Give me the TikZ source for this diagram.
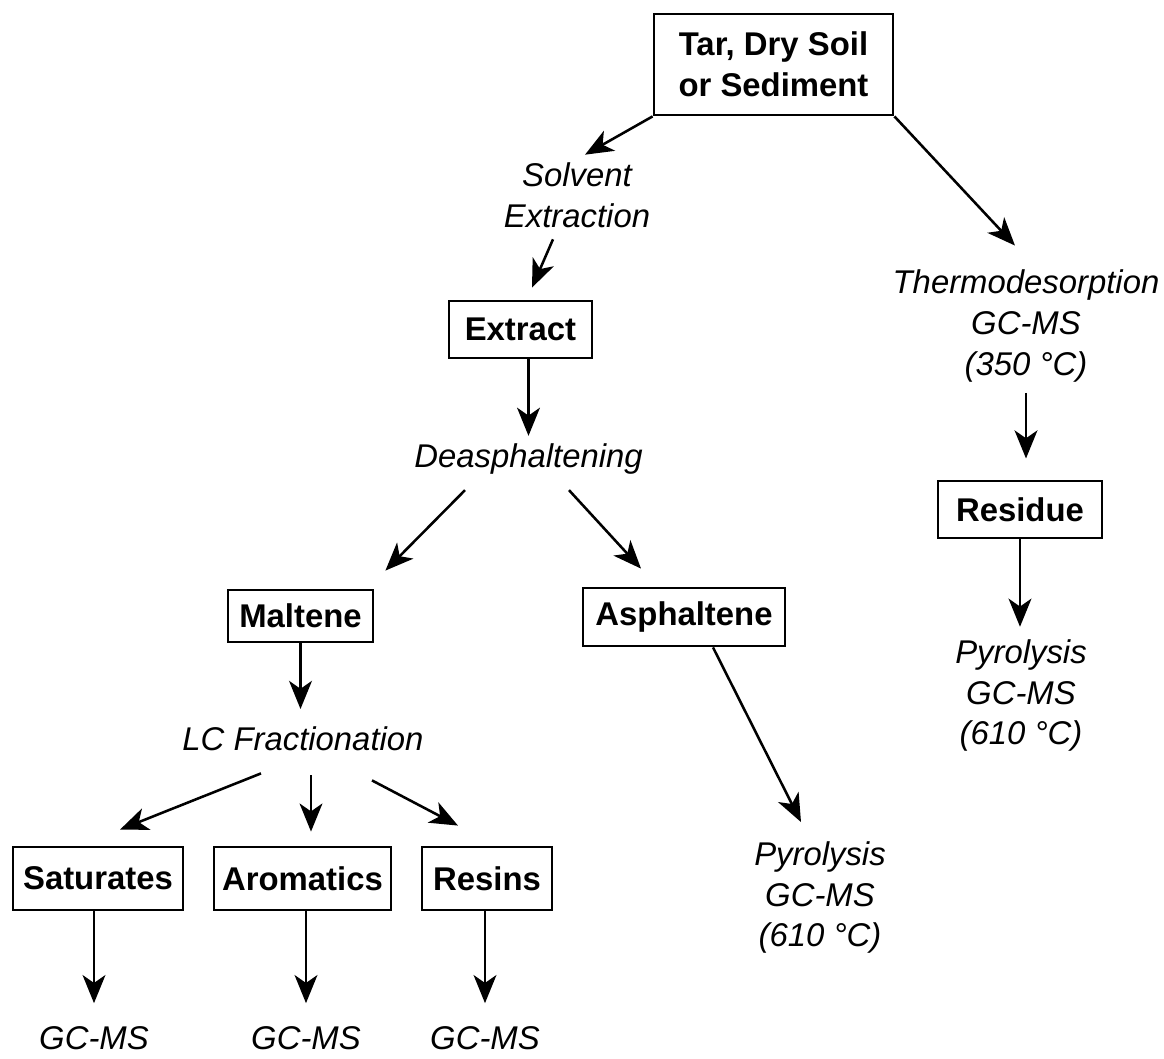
\documentclass[tikz,border=0pt]{standalone}
\usepackage{fontspec}
\setmainfont{Liberation Sans}
\usetikzlibrary{arrows.meta}

\begin{document}
\begin{tikzpicture}[
    box/.style={draw, line width=1.6pt, align=center,
        font=\bfseries\fontsize{18.7}{23.2}\selectfont},
    proc/.style={inner sep=0pt, align=center,
        font=\itshape\fontsize{18.7}{23.2}\selectfont},
    arr/.style={line width=1.45pt, arrows={-Stealth[length=16pt, width=13pt, inset=4.5pt]}}
]

    \useasboundingbox (0, 0) rectangle (23.28, 21.18);

    % sample and extraction
    \path node (top) [box, minimum width=4.78cm, minimum height=2.02cm] at (15.47, 19.89) {Tar, Dry Soil\\or Sediment};
    \path node (solvent) [proc] at (11.54, 17.27) {Solvent\\Extraction};
    \path node (extract) [box, minimum width=2.86cm, minimum height=1.14cm] at (10.41, 14.59) {Extract};
    \path node (deasph) [proc] at (10.57, 11.99) {Deasphaltening};
    \path node (maltene) [box, minimum width=2.90cm, minimum height=1.04cm] at (6.01, 8.86) {Maltene};
    \path node (asph) [box, minimum width=4.04cm, minimum height=1.16cm] at (13.68, 8.84) {Asphaltene};
    \path node (lcfrac) [proc] at (6.06, 6.40) {LC Fractionation};

    % fractions
    \path node (sat) [box, minimum width=3.40cm, minimum height=1.26cm] at (1.96, 3.61) {Saturates};
    \path node (arom) [box, minimum width=3.54cm, minimum height=1.26cm] at (6.05, 3.61) {Aromatics};
    \path node (resins) [box, minimum width=2.60cm, minimum height=1.26cm] at (9.74, 3.61) {Resins};
    \path node (gc1) [proc] at (1.88, 0.42) {GC-MS};
    \path node (gc2) [proc] at (6.12, 0.42) {GC-MS};
    \path node (gc3) [proc] at (9.70, 0.42) {GC-MS};
    \path node (pyroA) [proc] at (16.40, 3.23) {Pyrolysis\\GC-MS\\(610 °C)};

    % thermal branch
    \path node (thermo) [proc] at (20.52, 14.66) {Thermodesorption\\GC-MS\\(350 °C)};
    \path node (residue) [box, minimum width=3.28cm, minimum height=1.14cm] at (20.40, 10.99) {Residue};
    \path node (pyroR) [proc] at (20.42, 7.27) {Pyrolysis\\GC-MS\\(610 °C)};

    \draw[arr] (top.south west) -- ([xshift=0.16cm, yshift=0.16cm]solvent.north);
    \draw[arr] (top.south east) -- ([xshift=-0.22cm, yshift=0.48cm]thermo.north);
    \draw[arr] ([xshift=-0.48cm, yshift=-0.22cm]solvent.south) -- ([xshift=0.23cm, yshift=0.24cm]extract.north);
    \draw[arr] ([xshift=0.16cm]extract.south) -- ([yshift=0.16cm]deasph.north);
    \draw[arr] ([xshift=-1.27cm, yshift=-0.30cm]deasph.south) -- ([xshift=0.22cm, yshift=0.36cm]maltene.north east);
    \draw[arr] ([xshift=0.81cm, yshift=-0.30cm]deasph.south) -- ([xshift=-0.86cm, yshift=0.36cm]asph.north);
    \draw[arr, shorten >=10pt] (maltene.south) -- (maltene.south |- lcfrac.north);
    \draw[arr] ([xshift=-0.84cm, yshift=-0.44cm]lcfrac.south) -- ([xshift=0.44cm, yshift=0.32cm]sat.north);
    \draw[arr] ([xshift=0.16cm, yshift=-0.48cm]lcfrac.south) -- ([xshift=0.17cm, yshift=0.28cm]arom.north);
    \draw[arr] ([xshift=1.38cm, yshift=-0.58cm]lcfrac.south) -- ([xshift=-0.58cm, yshift=0.40cm]resins.north);
    \draw[arr, shorten >=13pt] (gc1 |- sat.south) -- (gc1.north);
    \draw[arr, shorten >=13pt] (gc2 |- arom.south) -- (gc2.north);
    \draw[arr, shorten >=13pt] (gc3 |- resins.south) -- (gc3.north);
    \draw[arr] ([xshift=0.58cm]asph.south) -- ([xshift=-0.38cm, yshift=0.38cm]pyroA.north);
    \draw[arr, shorten <=6pt, shorten >=12pt] (thermo.south) -- (thermo.south |- residue.north);
    \draw[arr, shorten >=7pt] (residue.south) -- (residue.south |- pyroR.north);

\end{tikzpicture}
\end{document}
